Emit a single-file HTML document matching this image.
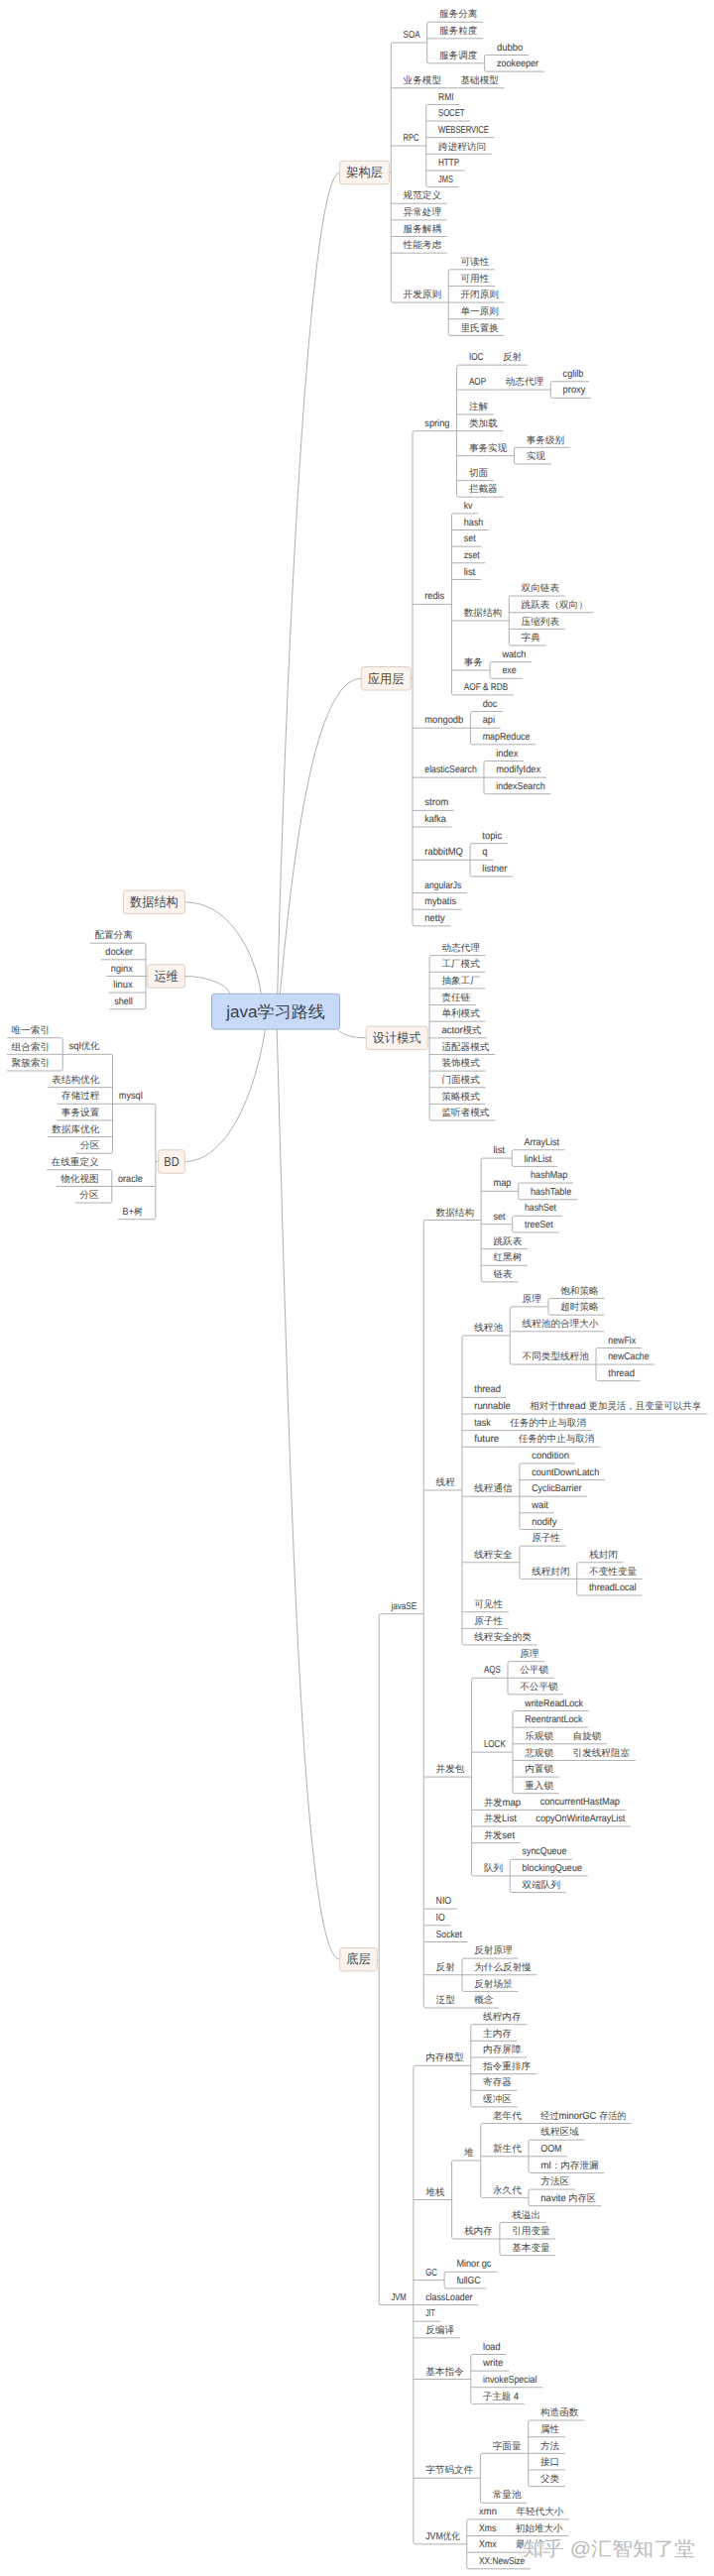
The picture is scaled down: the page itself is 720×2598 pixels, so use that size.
<!DOCTYPE html>
<html><head><meta charset="utf-8"><title>java学习路线</title>
<style>
html,body{margin:0;padding:0;background:#fff;}
body{width:720px;height:2598px;overflow:hidden;font-family:"Liberation Sans",sans-serif;}
svg{display:block;font-family:"Liberation Sans",sans-serif;text-rendering:geometricPrecision;}
.l{font-size:10.0px;stroke:#474747;stroke-width:0.1px}
</style></head><body>
<svg width="720" height="2598" viewBox="0 0 720 2598">
<g fill="none" stroke="#b0b0b0" stroke-width="1">
<path d="M279.5 1011.3L279.8 999.3C289.34 622.39 313.3 174.04 342.6 174.04"/>
<path d="M281.6 1011.25L282.7 999.3C295.94 856.06 317.52 684.27 364.3 684.27"/>
<path d="M332.33 1029.02L340.3 1038C345.24 1043.56 355 1046.82 369.2 1046.82"/>
<path d="M278.85 1026.71L279.2 1038.7C290.54 1427.4 302.82 1976.17 342.7 1976.17"/>
<path d="M264.71 1013.7L263.2 1001.8C259.25 970.69 236.02 909.8 186.4 909.8"/>
<path d="M231.75 1013.79L231.3 1001.8C231 993.75 208.58 984.48 186.4 984.48"/>
<path d="M269.31 1026.55L267.4 1038.4C254.8 1116.75 223.59 1171.5 186.3 1171.5"/>
<path d="M396.1 43Q394.3 43 394.3 44.8L394.3 303.28Q394.3 305.08 396.1 305.08M432.48 22.2Q430.68 22.2 430.68 24L430.68 62Q430.68 63.8 432.48 63.8M490.38 55.48Q488.58 55.48 488.58 57.28L488.58 70.32Q488.58 72.12 490.38 72.12M431.54 105.4Q429.74 105.4 429.74 107.2L429.74 186.8Q429.74 188.6 431.54 188.6M454 271.8Q452.2 271.8 452.2 273.6L452.2 336.56Q452.2 338.36 454 338.36M392.4 174.04H394.3M396.1 43H430.68M432.48 22.2H487.08M430.68 38.84H487.08M432.48 63.8H488.58M490.38 55.48H532.89M490.38 72.12H548.81M394.3 88.76H452.2M452.2 88.76H508.6M394.3 147H429.74M431.54 105.4H463.23M429.74 122.04H474.15M429.74 138.68H498.66M429.74 155.32H495.74M429.74 171.96H468.8M431.54 188.6H462.54M394.3 205.24H450.7M394.3 221.88H450.7M394.3 238.52H450.7M394.3 255.16H450.7M396.1 305.08H452.2M454 271.8H499M452.2 288.44H499M452.2 305.08H508.6M452.2 321.72H508.6M454 338.36H508.6M417.8 434.67Q416 434.67 416 436.47L416 932.07Q416 933.87 417.8 933.87M462.38 368.11Q460.58 368.11 460.58 369.91L460.58 499.43Q460.58 501.23 462.38 501.23M557.12 384.75Q555.32 384.75 555.32 386.55L555.32 399.59Q555.32 401.39 557.12 401.39M520.28 451.31Q518.48 451.31 518.48 453.11L518.48 466.15Q518.48 467.95 520.28 467.95M457.21 517.87Q455.41 517.87 455.41 519.67L455.41 699.11Q455.41 700.91 457.21 700.91M515.11 601.07Q513.31 601.07 513.31 602.87L513.31 649.19Q513.31 650.99 515.11 650.99M495.91 667.63Q494.11 667.63 494.11 669.43L494.11 682.47Q494.11 684.27 495.91 684.27M476.26 717.55Q474.46 717.55 474.46 719.35L474.46 749.03Q474.46 750.83 476.26 750.83M489.76 767.47Q487.96 767.47 487.96 769.27L487.96 798.95Q487.96 800.75 489.76 800.75M475.85 850.67Q474.05 850.67 474.05 852.47L474.05 882.15Q474.05 883.95 475.85 883.95M414.1 684.27H416M417.8 434.67H460.58M462.38 368.11H494.62M494.62 368.11H531.82M460.58 393.07H497.42M497.42 393.07H555.32M557.12 384.75H593.94M557.12 401.39H596.16M460.58 418.03H497.78M460.58 434.67H507.38M460.58 459.63H518.48M520.28 451.31H574.88M520.28 467.95H555.68M460.58 484.59H497.78M462.38 501.23H507.38M416 609.39H455.41M457.21 517.87H482.24M455.41 534.51H492.87M455.41 551.15H485.39M455.41 567.79H489.41M455.41 584.43H484.91M455.41 626.03H513.31M515.11 601.07H569.71M513.31 617.71H598.51M513.31 634.35H569.71M515.11 650.99H550.51M455.41 675.95H494.11M495.91 667.63H536.02M495.91 684.27H526.28M457.21 700.91H517.94M416 734.19H474.46M476.26 717.55H507.04M474.46 734.19H504.71M476.26 750.83H540.18M416 784.11H487.96M489.76 767.47H528.05M487.96 784.11H550.9M489.76 800.75H555.29M416 817.39H457.87M416 834.03H455.53M416 867.31H474.05M475.85 850.67H511.84M474.05 867.31H497.33M475.85 883.95H517.18M416 900.59H470.96M416 917.23H465.74M417.8 933.87H454.53M434.9 963.62Q433.1 963.62 433.1 965.42L433.1 1128.22Q433.1 1130.02 434.9 1130.02M431.2 1046.82H433.1M434.9 963.62H489.5M433.1 980.26H489.5M433.1 996.9H489.5M433.1 1013.54H479.9M433.1 1030.18H489.5M433.1 1046.82H490.94M433.1 1063.46H499.1M433.1 1080.1H489.5M433.1 1096.74H489.5M433.1 1113.38H489.5M434.9 1130.02H499.1M384 1627.77Q382.2 1627.77 382.2 1629.57L382.2 2322.77Q382.2 2324.57 384 2324.57M429.08 1230.49Q427.28 1230.49 427.28 1232.29L427.28 2023.25Q427.28 2025.05 429.08 2025.05M486.98 1168.09Q485.18 1168.09 485.18 1169.89L485.18 1291.09Q485.18 1292.89 486.98 1292.89M517.98 1159.77Q516.18 1159.77 516.18 1161.57L516.18 1174.61Q516.18 1176.41 517.98 1176.41M524.55 1193.05Q522.75 1193.05 522.75 1194.85L522.75 1207.89Q522.75 1209.69 524.55 1209.69M518.46 1226.33Q516.66 1226.33 516.66 1228.13L516.66 1241.17Q516.66 1242.97 518.46 1242.97M467.78 1346.97Q465.98 1346.97 465.98 1348.77L465.98 1657.17Q465.98 1658.97 467.78 1658.97M516.08 1317.85Q514.28 1317.85 514.28 1319.65L514.28 1374.29Q514.28 1376.09 516.08 1376.09M554.78 1309.53Q552.98 1309.53 552.98 1311.33L552.98 1324.37Q552.98 1326.17 554.78 1326.17M602.78 1359.45Q600.98 1359.45 600.98 1361.25L600.98 1390.93Q600.98 1392.73 602.78 1392.73M525.68 1475.93Q523.88 1475.93 523.88 1477.73L523.88 1540.69Q523.88 1542.49 525.68 1542.49M525.68 1559.13Q523.88 1559.13 523.88 1560.93L523.88 1590.61Q523.88 1592.41 525.68 1592.41M583.58 1575.77Q581.78 1575.77 581.78 1577.57L581.78 1607.25Q581.78 1609.05 583.58 1609.05M477.38 1692.25Q475.58 1692.25 475.58 1694.05L475.58 1890.13Q475.58 1891.93 477.38 1891.93M513.76 1675.61Q511.96 1675.61 511.96 1677.41L511.96 1707.09Q511.96 1708.89 513.76 1708.89M518.77 1725.53Q516.97 1725.53 516.97 1727.33L516.97 1806.93Q516.97 1808.73 518.77 1808.73M516.08 1875.29Q514.28 1875.29 514.28 1877.09L514.28 1906.77Q514.28 1908.57 516.08 1908.57M467.78 1975.13Q465.98 1975.13 465.98 1976.93L465.98 2006.61Q465.98 2008.41 467.78 2008.41M418.7 2083.29Q416.9 2083.29 416.9 2085.09L416.9 2564.05Q416.9 2565.85 418.7 2565.85M476.6 2041.69Q474.8 2041.69 474.8 2043.49L474.8 2123.09Q474.8 2124.89 476.6 2124.89M457.4 2178.97Q455.6 2178.97 455.6 2180.77L455.6 2256.21Q455.6 2258.01 457.4 2258.01M486.5 2141.53Q484.7 2141.53 484.7 2143.33L484.7 2214.61Q484.7 2216.41 486.5 2216.41M534.8 2158.17Q533 2158.17 533 2159.97L533 2189.65Q533 2191.45 534.8 2191.45M534.8 2208.09Q533 2208.09 533 2209.89L533 2222.93Q533 2224.73 534.8 2224.73M505.7 2241.37Q503.9 2241.37 503.9 2243.17L503.9 2272.85Q503.9 2274.65 505.7 2274.65M449.9 2291.29Q448.1 2291.29 448.1 2293.09L448.1 2306.13Q448.1 2307.93 449.9 2307.93M476.6 2374.49Q474.8 2374.49 474.8 2376.29L474.8 2422.61Q474.8 2424.41 476.6 2424.41M486.2 2474.33Q484.4 2474.33 484.4 2476.13L484.4 2522.45Q484.4 2524.25 486.2 2524.25M534.5 2441.05Q532.7 2441.05 532.7 2442.85L532.7 2505.81Q532.7 2507.61 534.5 2507.61M472.59 2540.89Q470.79 2540.89 470.79 2542.69L470.79 2589.01Q470.79 2590.81 472.59 2590.81M380.3 1976.17H382.2M384 1627.77H427.28M429.08 1230.49H485.18M486.98 1168.09H516.18M517.98 1159.77H569.58M517.98 1176.41H562.14M485.18 1201.37H522.75M524.55 1193.05H578.06M524.55 1209.69H582.06M485.18 1234.65H516.66M518.46 1226.33H566.72M518.46 1242.97H563.47M485.18 1259.61H531.98M485.18 1276.25H531.98M486.98 1292.89H522.38M427.28 1502.97H465.98M467.78 1346.97H514.28M516.08 1317.85H552.98M554.78 1309.53H609.38M554.78 1326.17H609.38M514.28 1342.81H609.08M516.08 1376.09H600.98M602.78 1359.45H646.93M600.98 1376.09H660.23M602.78 1392.73H645.72M465.98 1409.37H510.72M465.98 1426.01H521.92M521.92 1426.01H712.89M465.98 1442.65H501.93M501.93 1442.65H596.73M465.98 1459.29H510.35M510.35 1459.29H605.15M465.98 1509.21H523.88M525.68 1475.93H579.62M523.88 1492.57H609.93M523.88 1509.21H592.13M523.88 1525.85H558.58M525.68 1542.49H567.08M465.98 1575.77H523.88M525.68 1559.13H570.68M525.68 1592.41H581.78M583.58 1575.77H628.58M581.78 1592.41H647.78M583.58 1609.05H647.25M465.98 1625.69H512.78M465.98 1642.33H512.78M467.78 1658.97H541.58M427.28 1792.09H475.58M477.38 1692.25H511.96M513.76 1675.61H549.16M511.96 1692.25H558.76M513.76 1708.89H568.36M475.58 1767.13H516.97M518.77 1725.53H593.74M516.97 1742.17H593.19M516.97 1758.81H565.27M565.27 1758.81H612.07M516.97 1775.45H565.27M565.27 1775.45H640.87M516.97 1792.09H563.77M518.77 1808.73H563.77M475.58 1825.37H532.35M532.35 1825.37H630.63M475.58 1842.01H528.07M528.07 1842.01H636.09M475.58 1858.65H524.76M477.38 1891.93H514.28M516.08 1875.29H577.05M514.28 1891.93H592.67M516.08 1908.57H570.68M427.28 1925.21H460.88M427.28 1941.85H454.39M427.28 1958.49H471.7M427.28 1991.77H465.98M467.78 1975.13H522.38M465.98 1991.77H541.58M467.78 2008.41H522.38M429.08 2025.05H465.98M465.98 2025.05H503.18M384 2324.57H416.9M418.7 2083.29H474.8M476.6 2041.69H531.2M474.8 2058.33H521.6M474.8 2074.97H531.2M474.8 2091.61H540.8M474.8 2108.25H521.6M476.6 2124.89H521.6M416.9 2218.49H455.6M457.4 2178.97H484.7M486.5 2141.53H533M533 2141.53H637.12M484.7 2174.81H533M534.8 2158.17H589.4M533 2174.81H572.18M534.8 2191.45H609.18M486.5 2216.41H533M534.8 2208.09H579.8M534.8 2224.73H606.47M457.4 2258.01H503.9M505.7 2241.37H550.7M503.9 2258.01H560.3M505.7 2274.65H560.3M416.9 2299.61H448.1M449.9 2291.29H501.1M449.9 2307.93H490.36M416.9 2324.57H482.26M416.9 2341.21H444.36M416.9 2357.85H463.7M416.9 2399.45H474.8M476.6 2374.49H510.24M474.8 2391.13H513.06M474.8 2407.77H547.2M476.6 2424.41H528.76M416.9 2499.29H484.4M486.2 2474.33H532.7M534.5 2441.05H589.1M532.7 2457.69H569.9M532.7 2474.33H569.9M532.7 2490.97H569.9M534.5 2507.61H569.9M486.2 2524.25H531.2M418.7 2565.85H470.79M472.59 2540.89H508.1M508.1 2540.89H574.1M470.79 2557.53H507.38M507.38 2557.53H573.38M470.79 2574.17H507.78M507.78 2574.17H554.58M472.59 2590.81H534.81M145.2 951.2Q147 951.2 147 953L147 1015.96Q147 1017.76 145.2 1017.76M147 984.48H148.8M90.8 951.2H145.2M101.76 967.84H147M107.23 984.48H147M109.76 1001.12H147M110.62 1017.76H145.2M155.1 1113.26Q156.9 1113.26 156.9 1115.06L156.9 1227.94Q156.9 1229.74 155.1 1229.74M111.69 1063.34Q113.49 1063.34 113.49 1065.14L113.49 1161.38Q113.49 1163.18 111.69 1163.18M61.43 1046.7Q63.23 1046.7 63.23 1048.5L63.23 1078.18Q63.23 1079.98 61.43 1079.98M110.99 1179.82Q112.79 1179.82 112.79 1181.62L112.79 1211.3Q112.79 1213.1 110.99 1213.1M156.9 1171.5H159.7M113.49 1113.26H155.1M63.23 1063.34H111.69M7.03 1046.7H61.43M7.03 1063.34H63.23M7.03 1079.98H61.43M47.69 1096.62H113.49M57.29 1113.26H113.49M57.29 1129.9H113.49M47.69 1146.54H113.49M76.49 1163.18H111.69M112.79 1196.46H156.9M46.99 1179.82H110.99M56.59 1196.46H112.79M75.79 1213.1H110.99M119 1229.74H155.1"/>
</g>
<rect x="213.5" y="1002.3" width="129.1" height="35.8" rx="3" fill="#c7daf7" stroke="#9aaed0" stroke-width="1"/>
<text x="278.05" y="1025.7" font-size="16.6" text-anchor="middle" fill="#3b414c" textLength="99.5" lengthAdjust="spacingAndGlyphs">java学习路线</text>
<rect x="342.6" y="162.29" width="49.8" height="23.5" rx="2.5" fill="#fbf3ec" stroke="#dccfc2" stroke-width="1"/>
<text x="367.5" y="178.34" font-size="13.0" text-anchor="middle" fill="#484848" textLength="36.6" lengthAdjust="spacingAndGlyphs">架构层</text>
<rect x="364.3" y="672.52" width="49.8" height="23.5" rx="2.5" fill="#fbf3ec" stroke="#dccfc2" stroke-width="1"/>
<text x="389.2" y="688.57" font-size="13.0" text-anchor="middle" fill="#484848" textLength="36.6" lengthAdjust="spacingAndGlyphs">应用层</text>
<rect x="369.2" y="1035.07" width="62" height="23.5" rx="2.5" fill="#fbf3ec" stroke="#dccfc2" stroke-width="1"/>
<text x="400.2" y="1051.12" font-size="13.0" text-anchor="middle" fill="#484848" textLength="48.8" lengthAdjust="spacingAndGlyphs">设计模式</text>
<rect x="342.7" y="1964.42" width="37.6" height="23.5" rx="2.5" fill="#fbf3ec" stroke="#dccfc2" stroke-width="1"/>
<text x="361.5" y="1980.47" font-size="13.0" text-anchor="middle" fill="#484848" textLength="24.4" lengthAdjust="spacingAndGlyphs">底层</text>
<rect x="124.4" y="898.05" width="62" height="23.5" rx="2.5" fill="#fbf3ec" stroke="#dccfc2" stroke-width="1"/>
<text x="155.4" y="914.1" font-size="13.0" text-anchor="middle" fill="#484848" textLength="48.8" lengthAdjust="spacingAndGlyphs">数据结构</text>
<rect x="148.8" y="972.73" width="37.6" height="23.5" rx="2.5" fill="#fbf3ec" stroke="#dccfc2" stroke-width="1"/>
<text x="167.6" y="988.78" font-size="13.0" text-anchor="middle" fill="#484848" textLength="24.4" lengthAdjust="spacingAndGlyphs">运维</text>
<rect x="159.7" y="1159.75" width="26.6" height="23.5" rx="2.5" fill="#fbf3ec" stroke="#dccfc2" stroke-width="1"/>
<text x="173" y="1175.8" font-size="13.0" text-anchor="middle" fill="#484848" textLength="15.5" lengthAdjust="spacingAndGlyphs">BD</text>
<g fill="#474747" font-size="9.6">
<text x="406.6" y="38.1" textLength="16.88" lengthAdjust="spacingAndGlyphs" class="l">SOA</text>
<text x="442.98" y="17.4" textLength="38.4" lengthAdjust="spacingAndGlyphs">服务分离</text>
<text x="442.98" y="34.04" textLength="38.4" lengthAdjust="spacingAndGlyphs">服务粒度</text>
<text x="442.98" y="59" textLength="38.4" lengthAdjust="spacingAndGlyphs">服务调度</text>
<text x="500.88" y="50.58" textLength="26.31" lengthAdjust="spacingAndGlyphs" class="l">dubbo</text>
<text x="500.88" y="67.22" textLength="42.23" lengthAdjust="spacingAndGlyphs" class="l">zookeeper</text>
<text x="406.6" y="83.96" textLength="38.4" lengthAdjust="spacingAndGlyphs">业务模型</text>
<text x="464.5" y="83.96" textLength="38.4" lengthAdjust="spacingAndGlyphs">基础模型</text>
<text x="406.6" y="142.1" textLength="15.94" lengthAdjust="spacingAndGlyphs" class="l">RPC</text>
<text x="442.04" y="100.5" textLength="15.5" lengthAdjust="spacingAndGlyphs" class="l">RMI</text>
<text x="442.04" y="117.14" textLength="26.42" lengthAdjust="spacingAndGlyphs" class="l">SOCET</text>
<text x="442.04" y="133.78" textLength="50.92" lengthAdjust="spacingAndGlyphs" class="l">WEBSERVICE</text>
<text x="442.04" y="150.52" textLength="48" lengthAdjust="spacingAndGlyphs">跨进程访问</text>
<text x="442.04" y="167.06" textLength="21.06" lengthAdjust="spacingAndGlyphs" class="l">HTTP</text>
<text x="442.04" y="183.7" textLength="14.8" lengthAdjust="spacingAndGlyphs" class="l">JMS</text>
<text x="406.6" y="200.44" textLength="38.4" lengthAdjust="spacingAndGlyphs">规范定义</text>
<text x="406.6" y="217.08" textLength="38.4" lengthAdjust="spacingAndGlyphs">异常处理</text>
<text x="406.6" y="233.72" textLength="38.4" lengthAdjust="spacingAndGlyphs">服务解耦</text>
<text x="406.6" y="250.36" textLength="38.4" lengthAdjust="spacingAndGlyphs">性能考虑</text>
<text x="406.6" y="300.28" textLength="38.4" lengthAdjust="spacingAndGlyphs">开发原则</text>
<text x="464.5" y="267" textLength="28.8" lengthAdjust="spacingAndGlyphs">可读性</text>
<text x="464.5" y="283.64" textLength="28.8" lengthAdjust="spacingAndGlyphs">可用性</text>
<text x="464.5" y="300.28" textLength="38.4" lengthAdjust="spacingAndGlyphs">开闭原则</text>
<text x="464.5" y="316.92" textLength="38.4" lengthAdjust="spacingAndGlyphs">单一原则</text>
<text x="464.5" y="333.56" textLength="38.4" lengthAdjust="spacingAndGlyphs">里氏置换</text>
<text x="428.3" y="429.77" textLength="25.08" lengthAdjust="spacingAndGlyphs" class="l">spring</text>
<text x="472.88" y="363.21" textLength="14.54" lengthAdjust="spacingAndGlyphs" class="l">IOC</text>
<text x="506.92" y="363.31" textLength="19.2" lengthAdjust="spacingAndGlyphs">反射</text>
<text x="472.88" y="388.17" textLength="17.34" lengthAdjust="spacingAndGlyphs" class="l">AOP</text>
<text x="509.72" y="388.27" textLength="38.4" lengthAdjust="spacingAndGlyphs">动态代理</text>
<text x="567.62" y="379.85" textLength="20.63" lengthAdjust="spacingAndGlyphs" class="l">cglilb</text>
<text x="567.62" y="396.49" textLength="22.84" lengthAdjust="spacingAndGlyphs" class="l">proxy</text>
<text x="472.88" y="413.23" textLength="19.2" lengthAdjust="spacingAndGlyphs">注解</text>
<text x="472.88" y="429.87" textLength="28.8" lengthAdjust="spacingAndGlyphs">类加载</text>
<text x="472.88" y="454.83" textLength="38.4" lengthAdjust="spacingAndGlyphs">事务实现</text>
<text x="530.78" y="446.51" textLength="38.4" lengthAdjust="spacingAndGlyphs">事务级别</text>
<text x="530.78" y="463.15" textLength="19.2" lengthAdjust="spacingAndGlyphs">实现</text>
<text x="472.88" y="479.79" textLength="19.2" lengthAdjust="spacingAndGlyphs">切面</text>
<text x="472.88" y="496.43" textLength="28.8" lengthAdjust="spacingAndGlyphs">拦截器</text>
<text x="428.3" y="604.49" textLength="19.91" lengthAdjust="spacingAndGlyphs" class="l">redis</text>
<text x="467.71" y="512.97" textLength="8.83" lengthAdjust="spacingAndGlyphs" class="l">kv</text>
<text x="467.71" y="529.61" textLength="19.46" lengthAdjust="spacingAndGlyphs" class="l">hash</text>
<text x="467.71" y="546.25" textLength="11.98" lengthAdjust="spacingAndGlyphs" class="l">set</text>
<text x="467.71" y="562.89" textLength="16.01" lengthAdjust="spacingAndGlyphs" class="l">zset</text>
<text x="467.71" y="579.53" textLength="11.5" lengthAdjust="spacingAndGlyphs" class="l">list</text>
<text x="467.71" y="621.23" textLength="38.4" lengthAdjust="spacingAndGlyphs">数据结构</text>
<text x="525.61" y="596.27" textLength="38.4" lengthAdjust="spacingAndGlyphs">双向链表</text>
<text x="525.61" y="612.91" textLength="67.2" lengthAdjust="spacingAndGlyphs">跳跃表（双向）</text>
<text x="525.61" y="629.55" textLength="38.4" lengthAdjust="spacingAndGlyphs">压缩列表</text>
<text x="525.61" y="646.19" textLength="19.2" lengthAdjust="spacingAndGlyphs">字典</text>
<text x="467.71" y="671.15" textLength="19.2" lengthAdjust="spacingAndGlyphs">事务</text>
<text x="506.41" y="662.73" textLength="23.91" lengthAdjust="spacingAndGlyphs" class="l">watch</text>
<text x="506.41" y="679.37" textLength="14.17" lengthAdjust="spacingAndGlyphs" class="l">exe</text>
<text x="467.71" y="696.01" textLength="44.54" lengthAdjust="spacingAndGlyphs" class="l">AOF &amp; RDB</text>
<text x="428.3" y="729.29" textLength="38.96" lengthAdjust="spacingAndGlyphs" class="l">mongodb</text>
<text x="486.76" y="712.65" textLength="14.58" lengthAdjust="spacingAndGlyphs" class="l">doc</text>
<text x="486.76" y="729.29" textLength="12.24" lengthAdjust="spacingAndGlyphs" class="l">api</text>
<text x="486.76" y="745.93" textLength="47.72" lengthAdjust="spacingAndGlyphs" class="l">mapReduce</text>
<text x="428.3" y="779.21" textLength="52.46" lengthAdjust="spacingAndGlyphs" class="l">elasticSearch</text>
<text x="500.26" y="762.57" textLength="22.08" lengthAdjust="spacingAndGlyphs" class="l">index</text>
<text x="500.26" y="779.21" textLength="44.94" lengthAdjust="spacingAndGlyphs" class="l">modifyIdex</text>
<text x="500.26" y="795.85" textLength="49.32" lengthAdjust="spacingAndGlyphs" class="l">indexSearch</text>
<text x="428.3" y="812.49" textLength="23.87" lengthAdjust="spacingAndGlyphs" class="l">strom</text>
<text x="428.3" y="829.13" textLength="21.53" lengthAdjust="spacingAndGlyphs" class="l">kafka</text>
<text x="428.3" y="862.41" textLength="38.55" lengthAdjust="spacingAndGlyphs" class="l">rabbitMQ</text>
<text x="486.35" y="845.77" textLength="19.79" lengthAdjust="spacingAndGlyphs" class="l">topic</text>
<text x="486.35" y="862.41" textLength="5.28" lengthAdjust="spacingAndGlyphs" class="l">q</text>
<text x="486.35" y="879.05" textLength="25.13" lengthAdjust="spacingAndGlyphs" class="l">listner</text>
<text x="428.3" y="895.69" textLength="36.96" lengthAdjust="spacingAndGlyphs" class="l">angularJs</text>
<text x="428.3" y="912.33" textLength="31.74" lengthAdjust="spacingAndGlyphs" class="l">mybatis</text>
<text x="428.3" y="928.97" textLength="20.53" lengthAdjust="spacingAndGlyphs" class="l">netty</text>
<text x="445.4" y="958.82" textLength="38.4" lengthAdjust="spacingAndGlyphs">动态代理</text>
<text x="445.4" y="975.46" textLength="38.4" lengthAdjust="spacingAndGlyphs">工厂模式</text>
<text x="445.4" y="992.1" textLength="38.4" lengthAdjust="spacingAndGlyphs">抽象工厂</text>
<text x="445.4" y="1008.74" textLength="28.8" lengthAdjust="spacingAndGlyphs">责任链</text>
<text x="445.4" y="1025.38" textLength="38.4" lengthAdjust="spacingAndGlyphs">单利模式</text>
<text x="445.4" y="1041.97" textLength="39.84" lengthAdjust="spacingAndGlyphs"><tspan class="l">actor</tspan><tspan>模式</tspan></text>
<text x="445.4" y="1058.66" textLength="48" lengthAdjust="spacingAndGlyphs">适配器模式</text>
<text x="445.4" y="1075.3" textLength="38.4" lengthAdjust="spacingAndGlyphs">装饰模式</text>
<text x="445.4" y="1091.94" textLength="38.4" lengthAdjust="spacingAndGlyphs">门面模式</text>
<text x="445.4" y="1108.58" textLength="38.4" lengthAdjust="spacingAndGlyphs">策略模式</text>
<text x="445.4" y="1125.22" textLength="48" lengthAdjust="spacingAndGlyphs">监听者模式</text>
<text x="394.5" y="1622.87" textLength="25.58" lengthAdjust="spacingAndGlyphs" class="l">javaSE</text>
<text x="439.58" y="1225.69" textLength="38.4" lengthAdjust="spacingAndGlyphs">数据结构</text>
<text x="497.48" y="1163.19" textLength="11.5" lengthAdjust="spacingAndGlyphs" class="l">list</text>
<text x="528.48" y="1154.87" textLength="35.4" lengthAdjust="spacingAndGlyphs" class="l">ArrayList</text>
<text x="528.48" y="1171.51" textLength="27.95" lengthAdjust="spacingAndGlyphs" class="l">linkList</text>
<text x="497.48" y="1196.47" textLength="18.07" lengthAdjust="spacingAndGlyphs" class="l">map</text>
<text x="535.05" y="1188.15" textLength="37.3" lengthAdjust="spacingAndGlyphs" class="l">hashMap</text>
<text x="535.05" y="1204.79" textLength="41.3" lengthAdjust="spacingAndGlyphs" class="l">hashTable</text>
<text x="497.48" y="1229.75" textLength="11.98" lengthAdjust="spacingAndGlyphs" class="l">set</text>
<text x="528.96" y="1221.43" textLength="32.06" lengthAdjust="spacingAndGlyphs" class="l">hashSet</text>
<text x="528.96" y="1238.07" textLength="28.81" lengthAdjust="spacingAndGlyphs" class="l">treeSet</text>
<text x="497.48" y="1254.81" textLength="28.8" lengthAdjust="spacingAndGlyphs">跳跃表</text>
<text x="497.48" y="1271.45" textLength="28.8" lengthAdjust="spacingAndGlyphs">红黑树</text>
<text x="497.48" y="1288.09" textLength="19.2" lengthAdjust="spacingAndGlyphs">链表</text>
<text x="439.58" y="1498.17" textLength="19.2" lengthAdjust="spacingAndGlyphs">线程</text>
<text x="478.28" y="1342.17" textLength="28.8" lengthAdjust="spacingAndGlyphs">线程池</text>
<text x="526.58" y="1313.05" textLength="19.2" lengthAdjust="spacingAndGlyphs">原理</text>
<text x="565.28" y="1304.73" textLength="38.4" lengthAdjust="spacingAndGlyphs">饱和策略</text>
<text x="565.28" y="1321.37" textLength="38.4" lengthAdjust="spacingAndGlyphs">超时策略</text>
<text x="526.58" y="1338.01" textLength="76.8" lengthAdjust="spacingAndGlyphs">线程池的合理大小</text>
<text x="526.58" y="1371.29" textLength="67.2" lengthAdjust="spacingAndGlyphs">不同类型线程池</text>
<text x="613.28" y="1354.55" textLength="27.94" lengthAdjust="spacingAndGlyphs" class="l">newFix</text>
<text x="613.28" y="1371.19" textLength="41.25" lengthAdjust="spacingAndGlyphs" class="l">newCache</text>
<text x="613.28" y="1387.83" textLength="26.73" lengthAdjust="spacingAndGlyphs" class="l">thread</text>
<text x="478.28" y="1404.47" textLength="26.73" lengthAdjust="spacingAndGlyphs" class="l">thread</text>
<text x="478.28" y="1421.11" textLength="36.44" lengthAdjust="spacingAndGlyphs" class="l">runnable</text>
<text x="534.22" y="1421.16" textLength="172.97" lengthAdjust="spacingAndGlyphs"><tspan>相对于</tspan><tspan class="l">thread </tspan><tspan>更加灵活，且变量可以共享</tspan></text>
<text x="478.28" y="1437.75" textLength="16.45" lengthAdjust="spacingAndGlyphs" class="l">task</text>
<text x="514.23" y="1437.85" textLength="76.8" lengthAdjust="spacingAndGlyphs">任务的中止与取消</text>
<text x="478.28" y="1454.39" textLength="24.87" lengthAdjust="spacingAndGlyphs" class="l">future</text>
<text x="522.65" y="1454.49" textLength="76.8" lengthAdjust="spacingAndGlyphs">任务的中止与取消</text>
<text x="478.28" y="1504.41" textLength="38.4" lengthAdjust="spacingAndGlyphs">线程通信</text>
<text x="536.18" y="1471.03" textLength="37.74" lengthAdjust="spacingAndGlyphs" class="l">condition</text>
<text x="536.18" y="1487.67" textLength="68.05" lengthAdjust="spacingAndGlyphs" class="l">countDownLatch</text>
<text x="536.18" y="1504.31" textLength="50.25" lengthAdjust="spacingAndGlyphs" class="l">CyclicBarrier</text>
<text x="536.18" y="1520.95" textLength="16.7" lengthAdjust="spacingAndGlyphs" class="l">wait</text>
<text x="536.18" y="1537.59" textLength="25.2" lengthAdjust="spacingAndGlyphs" class="l">nodify</text>
<text x="478.28" y="1570.97" textLength="38.4" lengthAdjust="spacingAndGlyphs">线程安全</text>
<text x="536.18" y="1554.33" textLength="28.8" lengthAdjust="spacingAndGlyphs">原子性</text>
<text x="536.18" y="1587.61" textLength="38.4" lengthAdjust="spacingAndGlyphs">线程封闭</text>
<text x="594.08" y="1570.97" textLength="28.8" lengthAdjust="spacingAndGlyphs">栈封闭</text>
<text x="594.08" y="1587.61" textLength="48" lengthAdjust="spacingAndGlyphs">不变性变量</text>
<text x="594.08" y="1604.15" textLength="47.47" lengthAdjust="spacingAndGlyphs" class="l">threadLocal</text>
<text x="478.28" y="1620.89" textLength="28.8" lengthAdjust="spacingAndGlyphs">可见性</text>
<text x="478.28" y="1637.53" textLength="28.8" lengthAdjust="spacingAndGlyphs">原子性</text>
<text x="478.28" y="1654.17" textLength="57.6" lengthAdjust="spacingAndGlyphs">线程安全的类</text>
<text x="439.58" y="1787.29" textLength="28.8" lengthAdjust="spacingAndGlyphs">并发包</text>
<text x="487.88" y="1687.35" textLength="16.88" lengthAdjust="spacingAndGlyphs" class="l">AQS</text>
<text x="524.26" y="1670.81" textLength="19.2" lengthAdjust="spacingAndGlyphs">原理</text>
<text x="524.26" y="1687.45" textLength="28.8" lengthAdjust="spacingAndGlyphs">公平锁</text>
<text x="524.26" y="1704.09" textLength="38.4" lengthAdjust="spacingAndGlyphs">不公平锁</text>
<text x="487.88" y="1762.23" textLength="21.89" lengthAdjust="spacingAndGlyphs" class="l">LOCK</text>
<text x="529.27" y="1720.63" textLength="58.77" lengthAdjust="spacingAndGlyphs" class="l">writeReadLock</text>
<text x="529.27" y="1737.27" textLength="58.22" lengthAdjust="spacingAndGlyphs" class="l">ReentrantLock</text>
<text x="529.27" y="1754.01" textLength="28.8" lengthAdjust="spacingAndGlyphs">乐观锁</text>
<text x="577.57" y="1754.01" textLength="28.8" lengthAdjust="spacingAndGlyphs">自旋锁</text>
<text x="529.27" y="1770.65" textLength="28.8" lengthAdjust="spacingAndGlyphs">悲观锁</text>
<text x="577.57" y="1770.65" textLength="57.6" lengthAdjust="spacingAndGlyphs">引发线程阻塞</text>
<text x="529.27" y="1787.29" textLength="28.8" lengthAdjust="spacingAndGlyphs">内置锁</text>
<text x="529.27" y="1803.93" textLength="28.8" lengthAdjust="spacingAndGlyphs">重入锁</text>
<text x="487.88" y="1820.52" textLength="37.27" lengthAdjust="spacingAndGlyphs"><tspan>并发</tspan><tspan class="l">map</tspan></text>
<text x="544.65" y="1820.47" textLength="80.28" lengthAdjust="spacingAndGlyphs" class="l">concurrentHastMap</text>
<text x="487.88" y="1837.16" textLength="32.99" lengthAdjust="spacingAndGlyphs"><tspan>并发</tspan><tspan class="l">List</tspan></text>
<text x="540.37" y="1837.11" textLength="90.02" lengthAdjust="spacingAndGlyphs" class="l">copyOnWiriteArrayList</text>
<text x="487.88" y="1853.8" textLength="31.18" lengthAdjust="spacingAndGlyphs"><tspan>并发</tspan><tspan class="l">set</tspan></text>
<text x="487.88" y="1887.13" textLength="19.2" lengthAdjust="spacingAndGlyphs">队列</text>
<text x="526.58" y="1870.39" textLength="44.77" lengthAdjust="spacingAndGlyphs" class="l">syncQueue</text>
<text x="526.58" y="1887.03" textLength="60.39" lengthAdjust="spacingAndGlyphs" class="l">blockingQueue</text>
<text x="526.58" y="1903.77" textLength="38.4" lengthAdjust="spacingAndGlyphs">双端队列</text>
<text x="439.58" y="1920.31" textLength="15.6" lengthAdjust="spacingAndGlyphs" class="l">NIO</text>
<text x="439.58" y="1936.95" textLength="9.11" lengthAdjust="spacingAndGlyphs" class="l">IO</text>
<text x="439.58" y="1953.59" textLength="26.42" lengthAdjust="spacingAndGlyphs" class="l">Socket</text>
<text x="439.58" y="1986.97" textLength="19.2" lengthAdjust="spacingAndGlyphs">反射</text>
<text x="478.28" y="1970.33" textLength="38.4" lengthAdjust="spacingAndGlyphs">反射原理</text>
<text x="478.28" y="1986.97" textLength="57.6" lengthAdjust="spacingAndGlyphs">为什么反射慢</text>
<text x="478.28" y="2003.61" textLength="38.4" lengthAdjust="spacingAndGlyphs">反射场景</text>
<text x="439.58" y="2020.25" textLength="19.2" lengthAdjust="spacingAndGlyphs">泛型</text>
<text x="478.28" y="2020.25" textLength="19.2" lengthAdjust="spacingAndGlyphs">概念</text>
<text x="394.5" y="2319.67" textLength="15.2" lengthAdjust="spacingAndGlyphs" class="l">JVM</text>
<text x="429.2" y="2078.49" textLength="38.4" lengthAdjust="spacingAndGlyphs">内存模型</text>
<text x="487.1" y="2036.89" textLength="38.4" lengthAdjust="spacingAndGlyphs">线程内存</text>
<text x="487.1" y="2053.53" textLength="28.8" lengthAdjust="spacingAndGlyphs">主内存</text>
<text x="487.1" y="2070.17" textLength="38.4" lengthAdjust="spacingAndGlyphs">内存屏障</text>
<text x="487.1" y="2086.81" textLength="48" lengthAdjust="spacingAndGlyphs">指令重排序</text>
<text x="487.1" y="2103.45" textLength="28.8" lengthAdjust="spacingAndGlyphs">寄存器</text>
<text x="487.1" y="2120.09" textLength="28.8" lengthAdjust="spacingAndGlyphs">缓冲区</text>
<text x="429.2" y="2213.69" textLength="19.2" lengthAdjust="spacingAndGlyphs">堆栈</text>
<text x="467.9" y="2174.17" textLength="9.6" lengthAdjust="spacingAndGlyphs">堆</text>
<text x="497" y="2136.73" textLength="28.8" lengthAdjust="spacingAndGlyphs">老年代</text>
<text x="545.3" y="2136.68" textLength="86.12" lengthAdjust="spacingAndGlyphs"><tspan>经过</tspan><tspan class="l">minorGC </tspan><tspan>存活的</tspan></text>
<text x="497" y="2170.01" textLength="28.8" lengthAdjust="spacingAndGlyphs">新生代</text>
<text x="545.3" y="2153.37" textLength="38.4" lengthAdjust="spacingAndGlyphs">线程区域</text>
<text x="545.3" y="2169.91" textLength="21.18" lengthAdjust="spacingAndGlyphs" class="l">OOM</text>
<text x="545.3" y="2186.6" textLength="58.19" lengthAdjust="spacingAndGlyphs"><tspan class="l">ml</tspan><tspan>：内存泄漏</tspan></text>
<text x="497" y="2211.61" textLength="28.8" lengthAdjust="spacingAndGlyphs">永久代</text>
<text x="545.3" y="2203.29" textLength="28.8" lengthAdjust="spacingAndGlyphs">方法区</text>
<text x="545.3" y="2219.88" textLength="55.47" lengthAdjust="spacingAndGlyphs"><tspan class="l">navite </tspan><tspan>内存区</tspan></text>
<text x="467.9" y="2253.21" textLength="28.8" lengthAdjust="spacingAndGlyphs">栈内存</text>
<text x="516.2" y="2236.57" textLength="28.8" lengthAdjust="spacingAndGlyphs">栈溢出</text>
<text x="516.2" y="2253.21" textLength="38.4" lengthAdjust="spacingAndGlyphs">引用变量</text>
<text x="516.2" y="2269.85" textLength="38.4" lengthAdjust="spacingAndGlyphs">基本变量</text>
<text x="429.2" y="2294.71" textLength="11.7" lengthAdjust="spacingAndGlyphs" class="l">GC</text>
<text x="460.4" y="2286.39" textLength="35.01" lengthAdjust="spacingAndGlyphs" class="l">Minor gc</text>
<text x="460.4" y="2303.03" textLength="24.26" lengthAdjust="spacingAndGlyphs" class="l">fullGC</text>
<text x="429.2" y="2319.67" textLength="47.36" lengthAdjust="spacingAndGlyphs" class="l">classLoader</text>
<text x="429.2" y="2336.31" textLength="9.46" lengthAdjust="spacingAndGlyphs" class="l">JIT</text>
<text x="429.2" y="2353.05" textLength="28.8" lengthAdjust="spacingAndGlyphs">反编译</text>
<text x="429.2" y="2394.65" textLength="38.4" lengthAdjust="spacingAndGlyphs">基本指令</text>
<text x="487.1" y="2369.59" textLength="17.44" lengthAdjust="spacingAndGlyphs" class="l">load</text>
<text x="487.1" y="2386.23" textLength="20.26" lengthAdjust="spacingAndGlyphs" class="l">write</text>
<text x="487.1" y="2402.87" textLength="54.4" lengthAdjust="spacingAndGlyphs" class="l">invokeSpecial</text>
<text x="487.1" y="2419.56" textLength="35.96" lengthAdjust="spacingAndGlyphs"><tspan>子主题</tspan><tspan class="l"> 4</tspan></text>
<text x="429.2" y="2494.49" textLength="48" lengthAdjust="spacingAndGlyphs">字节码文件</text>
<text x="496.7" y="2469.53" textLength="28.8" lengthAdjust="spacingAndGlyphs">字面量</text>
<text x="545" y="2436.25" textLength="38.4" lengthAdjust="spacingAndGlyphs">构造函数</text>
<text x="545" y="2452.89" textLength="19.2" lengthAdjust="spacingAndGlyphs">属性</text>
<text x="545" y="2469.53" textLength="19.2" lengthAdjust="spacingAndGlyphs">方法</text>
<text x="545" y="2486.17" textLength="19.2" lengthAdjust="spacingAndGlyphs">接口</text>
<text x="545" y="2502.81" textLength="19.2" lengthAdjust="spacingAndGlyphs">父类</text>
<text x="496.7" y="2519.45" textLength="28.8" lengthAdjust="spacingAndGlyphs">常量池</text>
<text x="429.2" y="2561" textLength="34.4" lengthAdjust="spacingAndGlyphs"><tspan class="l">JVM</tspan><tspan>优化</tspan></text>
<text x="483.09" y="2535.99" textLength="17.8" lengthAdjust="spacingAndGlyphs" class="l">xmn</text>
<text x="520.4" y="2536.09" textLength="48" lengthAdjust="spacingAndGlyphs">年轻代大小</text>
<text x="483.09" y="2552.63" textLength="17.09" lengthAdjust="spacingAndGlyphs" class="l">Xms</text>
<text x="519.68" y="2552.73" textLength="48" lengthAdjust="spacingAndGlyphs">初始堆大小</text>
<text x="483.09" y="2569.27" textLength="17.49" lengthAdjust="spacingAndGlyphs" class="l">Xmx</text>
<text x="520.08" y="2569.37" textLength="28.8" lengthAdjust="spacingAndGlyphs">最大堆</text>
<text x="483.09" y="2585.91" textLength="46.01" lengthAdjust="spacingAndGlyphs" class="l">XX:NewSize</text>
<text x="95.4" y="946.4" textLength="38.4" lengthAdjust="spacingAndGlyphs">配置分离</text>
<text x="106.36" y="962.94" textLength="27.44" lengthAdjust="spacingAndGlyphs" class="l">docker</text>
<text x="111.83" y="979.58" textLength="21.97" lengthAdjust="spacingAndGlyphs" class="l">nginx</text>
<text x="114.36" y="996.22" textLength="19.44" lengthAdjust="spacingAndGlyphs" class="l">linux</text>
<text x="115.22" y="1012.86" textLength="18.58" lengthAdjust="spacingAndGlyphs" class="l">shell</text>
<text x="119.79" y="1108.36" textLength="23.91" lengthAdjust="spacingAndGlyphs" class="l">mysql</text>
<text x="69.53" y="1058.49" textLength="30.76" lengthAdjust="spacingAndGlyphs"><tspan class="l">sql</tspan><tspan>优化</tspan></text>
<text x="11.63" y="1041.9" textLength="38.4" lengthAdjust="spacingAndGlyphs">唯一索引</text>
<text x="11.63" y="1058.54" textLength="38.4" lengthAdjust="spacingAndGlyphs">组合索引</text>
<text x="11.63" y="1075.18" textLength="38.4" lengthAdjust="spacingAndGlyphs">聚簇索引</text>
<text x="52.29" y="1091.82" textLength="48" lengthAdjust="spacingAndGlyphs">表结构优化</text>
<text x="61.89" y="1108.46" textLength="38.4" lengthAdjust="spacingAndGlyphs">存储过程</text>
<text x="61.89" y="1125.1" textLength="38.4" lengthAdjust="spacingAndGlyphs">事务设置</text>
<text x="52.29" y="1141.74" textLength="48" lengthAdjust="spacingAndGlyphs">数据库优化</text>
<text x="81.09" y="1158.38" textLength="19.2" lengthAdjust="spacingAndGlyphs">分区</text>
<text x="119.09" y="1191.56" textLength="24.61" lengthAdjust="spacingAndGlyphs" class="l">oracle</text>
<text x="51.59" y="1175.02" textLength="48" lengthAdjust="spacingAndGlyphs">在线重定义</text>
<text x="61.19" y="1191.66" textLength="38.4" lengthAdjust="spacingAndGlyphs">物化视图</text>
<text x="80.39" y="1208.3" textLength="19.2" lengthAdjust="spacingAndGlyphs">分区</text>
<text x="123.6" y="1224.89" textLength="20.1" lengthAdjust="spacingAndGlyphs"><tspan class="l">B+</tspan><tspan>树</tspan></text>
</g>
<text x="527" y="2576.5" font-size="19.5" fill="#bababa" stroke="#ffffff" stroke-width="1.8" stroke-linejoin="round" paint-order="stroke" textLength="174" lengthAdjust="spacingAndGlyphs">知乎 @汇智知了堂</text>
</svg>
</body></html>
